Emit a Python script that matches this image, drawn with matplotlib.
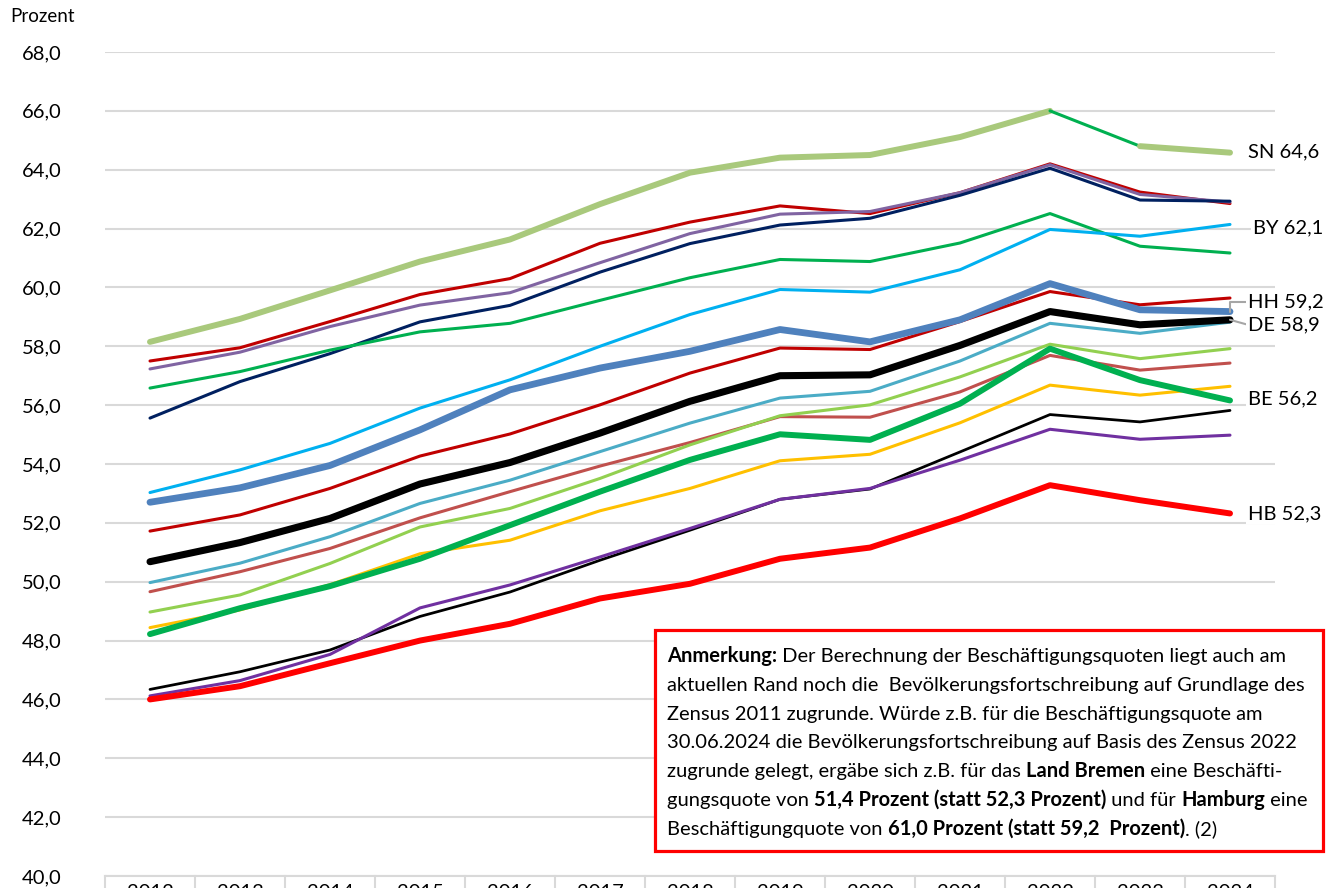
import matplotlib
matplotlib.use("Agg")
import matplotlib.pyplot as plt
from matplotlib.patches import Rectangle
from matplotlib.ticker import FixedLocator, FuncFormatter

FONT = ["Lato", "DejaVu Sans"]
plt.rcParams["font.family"] = FONT

years = [2012, 2013, 2014, 2015, 2016, 2017, 2018, 2019, 2020, 2021, 2022, 2023, 2024]
year_labels = [str(y) for y in years]

# series values (Prozent)
sn = [58.15, 58.93, 59.90, 60.88, 61.63, 62.83, 63.90, 64.41, 64.50, 65.11, 66.00, 64.80, 64.58]
red_top = [57.50, 57.95, 58.84, 59.76, 60.30, 61.50, 62.22, 62.77, 62.51, 63.22, 64.20, 63.24, 62.85]
purple_light = [57.23, 57.80, 58.67, 59.40, 59.82, 60.84, 61.83, 62.49, 62.58, 63.22, 64.17, 63.16, 62.90]
navy = [55.56, 56.80, 57.75, 58.83, 59.39, 60.52, 61.49, 62.12, 62.35, 63.13, 64.05, 62.97, 62.93]
green_thin = [56.58, 57.14, 57.87, 58.49, 58.78, 59.56, 60.33, 60.95, 60.88, 61.51, 62.51, 61.40, 61.17]
by = [53.03, 53.80, 54.70, 55.90, 56.86, 58.00, 59.08, 59.93, 59.84, 60.60, 61.97, 61.74, 62.14]
hh = [52.70, 53.19, 53.95, 55.16, 56.52, 57.26, 57.83, 58.57, 58.15, 58.90, 60.13, 59.24, 59.18]
red_mid = [51.72, 52.27, 53.17, 54.27, 55.02, 56.01, 57.09, 57.94, 57.89, 58.84, 59.86, 59.41, 59.64]
de = [50.68, 51.33, 52.15, 53.32, 54.05, 55.05, 56.13, 57.00, 57.03, 58.03, 59.18, 58.73, 58.90]
teal = [49.97, 50.63, 51.53, 52.66, 53.45, 54.42, 55.39, 56.24, 56.47, 57.50, 58.78, 58.44, 58.82]
rose = [49.66, 50.34, 51.13, 52.17, 53.06, 53.93, 54.73, 55.61, 55.59, 56.45, 57.69, 57.19, 57.43]
lightgreen = [48.97, 49.55, 50.62, 51.86, 52.49, 53.51, 54.65, 55.64, 56.01, 56.96, 58.07, 57.58, 57.92]
yellow = [48.44, 49.04, 49.90, 50.95, 51.41, 52.41, 53.17, 54.11, 54.33, 55.40, 56.68, 56.34, 56.64]
be = [48.22, 49.10, 49.85, 50.78, 51.92, 53.06, 54.14, 55.01, 54.82, 56.05, 57.92, 56.85, 56.16]
black_thin = [46.34, 46.94, 47.68, 48.82, 49.65, 50.73, 51.75, 52.80, 53.15, 54.41, 55.68, 55.43, 55.82]
purple_dark = [46.12, 46.64, 47.53, 49.11, 49.89, 50.84, 51.81, 52.80, 53.17, 54.13, 55.18, 54.84, 54.98]
hb = [46.00, 46.45, 47.23, 48.00, 48.57, 49.43, 49.93, 50.78, 51.16, 52.15, 53.28, 52.77, 52.32]

y_ticks = [40, 42, 44, 46, 48, 50, 52, 54, 56, 58, 60, 62, 64, 66, 68]

end_labels = [("SN 64,6", sn), ("BY 62,1", by), ("HH 59,2", hh), ("DE 58,9", de),
              ("BE 56,2", be), ("HB 52,3", hb)]

note_lines = [
    [("Anmerkung:", True), (" Der Berechnung der Beschäftigungsquoten liegt auch am", False)],
    [("aktuellen Rand noch die  Bevölkerungsfortschreibung auf Grundlage des", False)],
    [("Zensus 2011 zugrunde. Würde z.B. für die Beschäftigungsquote am", False)],
    [("30.06.2024 die Bevölkerungsfortschreibung auf Basis des Zensus 2022", False)],
    [("zugrunde gelegt, ergäbe sich z.B. für das ", False), ("Land Bremen", True), (" eine Beschäfti-", False)],
    [("gungsquote von ", False), ("51,4 Prozent (statt 52,3 Prozent)", True), (" und für ", False),
     ("Hamburg", True), (" eine", False)],
    [("Beschäftigungquote von ", False), ("61,0 Prozent (statt 59,2  Prozent)", True), (". (2)", False)],
]

W, H = 1338, 888
fig = plt.figure(figsize=(W / 100, H / 100), dpi=100)
ax = fig.add_axes([105 / W, (H - 876) / H, 1170 / W, 824 / H])
x = list(range(len(years)))

thin = 2.2
thick = 4.3

def line(vals, color, lw, z=2):
    ax.plot(x, vals, color=color, lw=lw, solid_capstyle="round", solid_joinstyle="round", zorder=z)

line(red_top, "#C00000", thin)
line(purple_light, "#8064A2", thin)
line(navy, "#002060", thin)
line(green_thin, "#00B050", thin)
line(by, "#00B0F0", thin)
line(red_mid, "#C00000", thin)
line(teal, "#4BACC6", thin)
line(rose, "#C0504D", thin)
line(lightgreen, "#92D050", thin)
line(yellow, "#FFC000", thin)
line(black_thin, "#000000", thin * 0.9)
line(purple_dark, "#7030A0", thin)
line(hh, "#4F81BD", thick + 0.6, 3)
line(de, "#000000", thick + 0.8, 3)
line(be, "#00B050", thick, 3)
line(hb, "#FF0000", thick, 3)
# SN: thick except the 2022-2023 segment, which is drawn thin green
ax.plot(x[:11], sn[:11], color="#A9C97C", lw=thick, solid_capstyle="round", solid_joinstyle="round", zorder=3)
ax.plot(x[10:12], sn[10:12], color="#00B050", lw=thin, solid_capstyle="round", zorder=3)
ax.plot(x[11:], sn[11:], color="#A9C97C", lw=thick, solid_capstyle="round", zorder=3)

ax.set_xlim(-0.5, len(years) - 0.5)
ax.set_ylim(40, 68)
ax.yaxis.set_major_locator(FixedLocator(y_ticks))
ax.yaxis.set_major_formatter(FuncFormatter(lambda v, p: f"{v:.1f}".replace(".", ",")))
ax.grid(axis="y", color="#D9D9D9", lw=1.5, zorder=0)
ax.set_axisbelow(True)
for s in ax.spines.values():
    s.set_visible(False)
ax.tick_params(axis="y", length=0, pad=31, labelsize=14.5, labelcolor="#000000")
ax.set_xticks(x)
ax.set_xticklabels(year_labels)
ax.tick_params(axis="x", length=0, pad=6, labelsize=14.5)
# category table box lines
ax.plot([-0.5, len(years) - 0.5], [40, 40], color="#D9D9D9", lw=1.5, clip_on=False, zorder=1)
for i in range(len(years) + 1):
    ax.plot([i - 0.5, i - 0.5], [40, 38], color="#D9D9D9", lw=1.5, clip_on=False, zorder=1)

fig.text(10 / W, 1 - 16 / H, "Prozent", fontsize=13.5, va="center", ha="left")

# end labels
for txt, vals in end_labels:
    dx = 23 if txt.startswith("BY") else 18
    dy = 0
    if txt.startswith("HH"):
        dy = 10
    if txt.startswith("DE"):
        dy = -5
    if txt.startswith("SN"):
        dy = 1
    if txt.startswith("BY"):
        dy = -3
    if txt.startswith("BE"):
        dy = 2
    kw = {}
    if txt[:2] in ("HH", "DE"):
        kw["arrowprops"] = dict(arrowstyle="-", color="#A6A6A6", lw=1.5, shrinkA=0, shrinkB=0,
                                relpos=(0, 0.5),
                                connectionstyle="angle,angleA=0,angleB=90,rad=0" if txt[:2] == "HH" else "arc3")
    ax.annotate(txt, xy=(x[-1], vals[-1]), xytext=(dx * 0.72, dy * 0.72), textcoords="offset points",
                fontsize=14.5, va="center", ha="left", zorder=6,
                bbox=dict(boxstyle="square,pad=0.1", fc="white", ec="none"), **kw)

# annotation box
rect = Rectangle((655 / W, 1 - 851 / H), (1323 - 655) / W, (851 - 630) / H, transform=fig.transFigure,
                 facecolor="white", edgecolor="#FF0000", lw=2.3, zorder=5)
fig.add_artist(rect)

renderer = fig.canvas.get_renderer()
FS = 14.5

def piece_width(s, bold):
    t = fig.text(0, 0, "|" + s + "|", fontsize=FS, fontweight="bold" if bold else "normal")
    w1 = t.get_window_extent(renderer).width
    t.set_text("||")
    w2 = t.get_window_extent(renderer).width
    t.remove()
    return w1 - w2

for i, pieces in enumerate(note_lines):
    xp = 667
    yp = 662 + i * 28.8
    for s, bold in pieces:
        fig.text(xp / W, 1 - yp / H, s, fontsize=FS, fontweight="bold" if bold else "normal",
                 va="baseline", ha="left", zorder=6)
        xp += piece_width(s, bold)

fig.savefig("out.png", dpi=100)
